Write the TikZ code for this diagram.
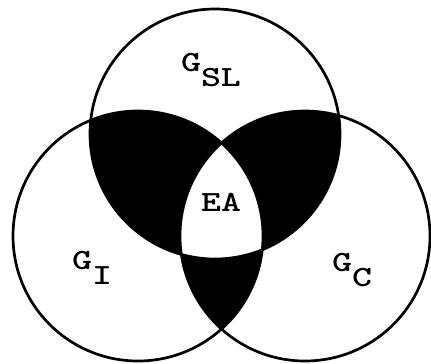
\documentclass[tikz,border=0pt]{standalone}
\usepackage{fontspec}
\usetikzlibrary{positioning}
\newcommand{\gsub}[2]{#1\raisebox{-0.5em}{#2}}
\newcommand{\rad}{125}
\tikzset{
  ring/.style={draw=black, line width=2.3pt},
  lbl/.style={font=\ttfamily\bfseries\fontsize{25}{27}\selectfont,
              inner sep=0pt, xscale=1.3},
}

\begin{document}
\begin{tikzpicture}[x=0.03cm, y=-0.03cm]
  \useasboundingbox (0,0) rectangle (431,363);
  \coordinate (top) at (215,134);
  \coordinate (left) at (138,236);
  \coordinate (right) at (305,236);
  % pairwise overlaps in black
  \begin{scope}
    \clip (top) circle[radius=\rad];
    \fill[black] (left) circle[radius=\rad];
    \fill[black] (right) circle[radius=\rad];
  \end{scope}
  \begin{scope}
    \clip (left) circle[radius=\rad];
    \fill[black] (right) circle[radius=\rad];
  \end{scope}
  % common core stays white
  \begin{scope}
    \clip (top) circle[radius=\rad];
    \clip (left) circle[radius=\rad];
    \fill[white] (right) circle[radius=\rad];
  \end{scope}
  \draw[ring] (top) circle[radius=\rad];
  \draw[ring] (left) circle[radius=\rad];
  \draw[ring] (right) circle[radius=\rad];
  \node[lbl] (gsl) at (211,70) {\gsub{G}{SL}};
  \node[lbl] (gi) at (92,268) {\gsub{G}{I}};
  \node[lbl] (gc) at (352,270) {\gsub{G}{C}};
  \node[lbl] (ea) at (221,202) {EA};
\end{tikzpicture}
\end{document}
